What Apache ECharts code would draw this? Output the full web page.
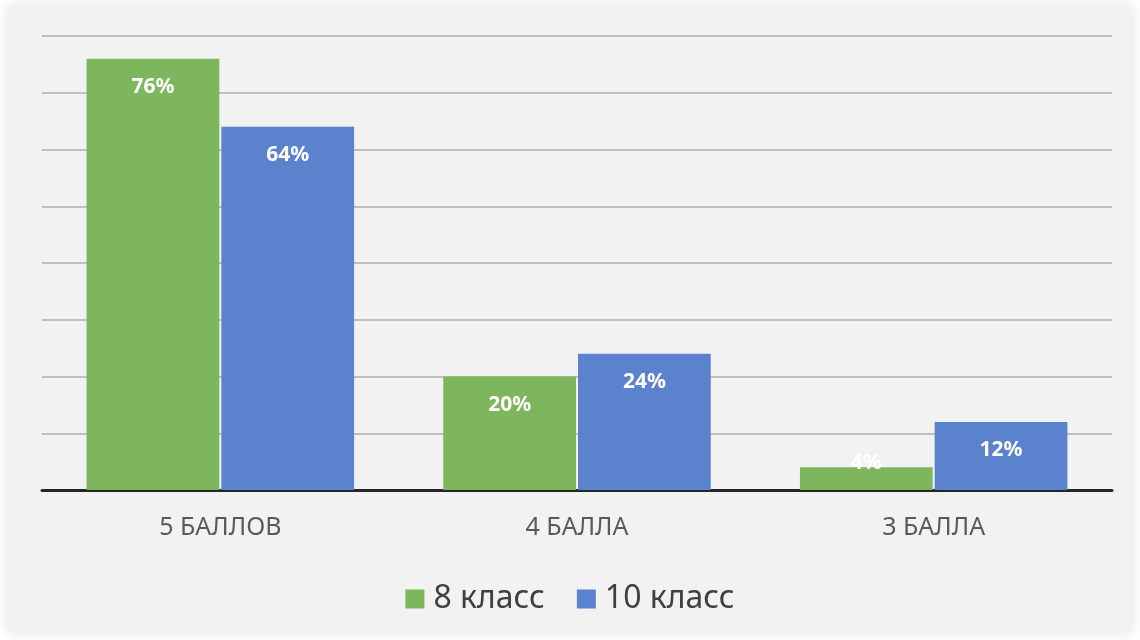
<!DOCTYPE html>
<html><head><meta charset="utf-8">
<script src="https://cdn.jsdelivr.net/npm/echarts@6/dist/echarts.min.js"></script>
<style>html,body{margin:0;padding:0;background:#fff;}#c{width:1140px;height:640px;}</style>
</head><body><div id="c"></div>
<script>
const categories = ['5 БАЛЛОВ', '4 БАЛЛА', '3 БАЛЛА'];
const class8 = [76, 20, 4];
const class10 = [64, 24, 12];
const seriesNames = ['8 класс', '10 класс'];
const font = '"Noto Sans", "Open Sans", sans-serif';
const chart = echarts.init(document.getElementById('c'));
const lbl = {show:true, position:'insideTop', distance:18, color:'#fff', fontWeight:'bold', fontSize:21, fontFamily:font, formatter:'{c}%'};
const smallLbl = {position:'top', distance:-6};
chart.setOption({
  backgroundColor:'#fff',
  graphic:[{type:'rect', z:-10, silent:true, shape:{x:8,y:6,width:1124,height:626}, style:{fill:'#f2f2f2', shadowBlur:14, shadowColor:'rgba(0,0,0,0.12)'}}],
  grid:{left:42, right:28, top:36, bottom:150},
  legend:{bottom:20, left:'center', itemWidth:19, itemHeight:19, itemGap:32, icon:'rect', textStyle:{fontSize:32, color:'#404040', fontFamily:font, padding:[0,0,0,4]}, data:seriesNames},
  xAxis:{type:'category', data:categories, axisLine:{lineStyle:{color:'#262626', width:3}}, axisTick:{show:false}, axisLabel:{fontSize:25, color:'#595959', margin:25, fontFamily:font}},
  yAxis:{type:'value', min:0, max:80, interval:10, axisLabel:{show:false}, axisLine:{show:false}, axisTick:{show:false}, splitLine:{lineStyle:{color:'#bfbfbf', width:2}}},
  series:[
    {name:seriesNames[0], type:'bar', data:class8.map(v => v < 8 ? {value:v, label:smallLbl} : v), itemStyle:{color:'#7db65c'}, barGap:'1.5%', barCategoryGap:'25%', label:lbl},
    {name:seriesNames[1], type:'bar', data:class10.map(v => v < 8 ? {value:v, label:smallLbl} : v), itemStyle:{color:'#5b82cc'}, label:lbl}
  ]
});
</script></body></html>
